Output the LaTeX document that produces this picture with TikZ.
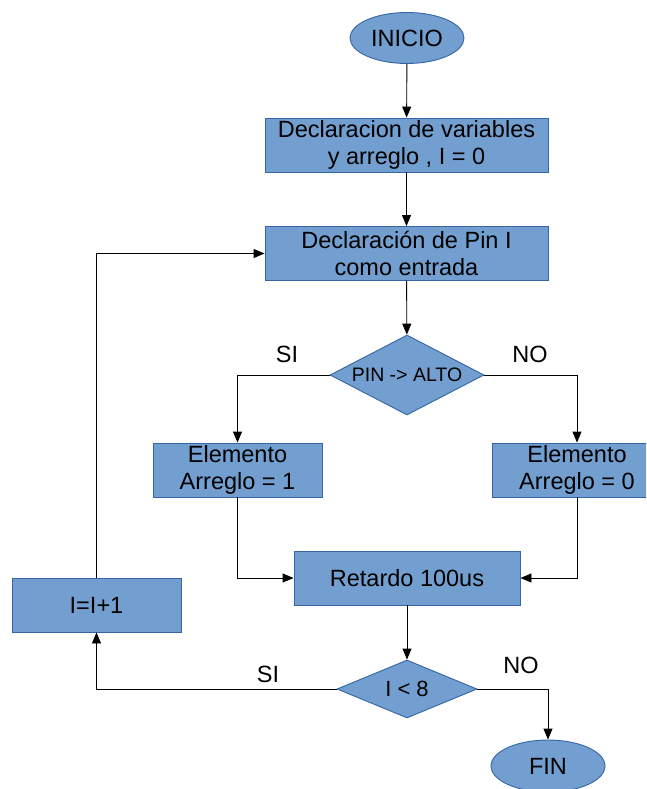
\documentclass[tikz,border=0pt]{standalone}
\usepackage{fontspec}
\setmainfont{Liberation Sans}
\usetikzlibrary{shapes.geometric,arrows.meta}
\definecolor{boxfill}{HTML}{729FCF}
\definecolor{boxline}{HTML}{3465A4}
\tikzset{
  base/.style={draw=boxline, fill=boxfill, line width=0.9pt, inner sep=0pt,
    align=center, font=\fontsize{23.5}{26.5}\selectfont},
  terminal/.style={base, ellipse, minimum width=114pt, minimum height=51pt},
  process/.style={base, rectangle, minimum height=54pt},
  decision/.style={base, diamond},
  flow/.style={draw, line width=0.9pt, -{Triangle[length=11pt,width=9pt]}},
  lbl/.style={font=\fontsize{23.5}{26}\selectfont, inner sep=0pt}
}
\begin{document}
\begin{tikzpicture}[x=1pt,y=-1pt]
  \useasboundingbox (0,0) rectangle (646,789);
  \clip (0,0) rectangle (646,789);

  % nodes
  \node[terminal] (ini) at (407,38) {INICIO};
  \node[process, minimum width=283pt] (decl) at (406.5,145) {Declaracion de variables\\y arreglo , I = 0};
  \node[process, minimum width=283pt] (pin) at (406.5,253.5) {Declaración de Pin I\\como entrada};
  \node[decision, aspect=1.925, minimum width=154pt, minimum height=80pt,
        font=\fontsize{19.5}{21}\selectfont] (alto) at (407,375) {PIN -> ALTO};
  \node[process, minimum width=169pt] (uno) at (237.5,470) {Elemento\\Arreglo = 1};
  \node[process, minimum width=169pt] (cero) at (577,470) {Elemento\\Arreglo = 0};
  \node[process, minimum width=226pt] (ret) at (407,578) {Retardo 100us};
  \node[process, minimum width=169pt] (inc) at (96.5,605) {I=I+1};
  \node[decision, aspect=2.41, minimum width=140pt, minimum height=58pt,
        font=\fontsize{22}{24}\selectfont] (cmp) at (407,689) {I < 8};
  \node[terminal, minimum height=52pt] (fin) at (548,766) {FIN};

  % branch labels
  \node[lbl] (si1) at (287,354) {SI};
  \node[lbl] (no1) at (530,354) {NO};
  \node[lbl] (si2) at (268,674) {SI};
  \node[lbl] (no2) at (521,665) {NO};

  % connectors
  \path[flow] (ini) -- (decl);
  \path[flow] (decl) -- (pin);
  \path[flow] (pin) -- (alto);
  \path[flow] (alto.west) -| (uno.north);
  \path[flow] (alto.east) -| (cero.north);
  \path[flow] (uno.south) |- (ret.west);
  \path[flow] (cero.south) |- (ret.east);
  \path[flow] (ret) -- (cmp);
  \path[flow] (cmp.west) -| (inc.south);
  \path[flow] (inc.north) |- (pin.west);
  \path[flow] (cmp.east) -| (fin.north);
\end{tikzpicture}
\end{document}
